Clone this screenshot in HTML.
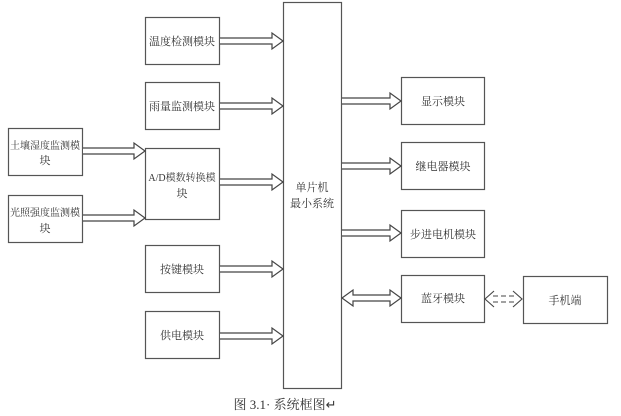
<!DOCTYPE html>
<html><head><meta charset="utf-8"><style>
html,body{margin:0;padding:0;background:#fff;}
svg{display:block;}
text{font-family:"Liberation Serif","Noto Serif CJK SC","Noto Sans CJK SC",serif;font-size:11px;fill:#333;}
.s{font-size:10px;}
</style></head><body>
<svg width="621" height="416" viewBox="0 0 621 416" xmlns="http://www.w3.org/2000/svg">
<g fill="#fff" stroke="#555" stroke-width="1.2">
<rect x="145.5" y="17.5" width="74" height="47"/>
<rect x="145.5" y="82.5" width="74" height="47"/>
<rect x="145.5" y="148.5" width="74" height="71"/>
<rect x="145.5" y="245.5" width="74" height="47"/>
<rect x="145.5" y="311.5" width="74" height="47"/>
<rect x="8.5" y="128.5" width="74" height="47"/>
<rect x="8.5" y="195.5" width="74" height="47"/>
<rect x="283.5" y="2.5" width="58" height="386"/>
<rect x="401.5" y="77.5" width="83" height="47"/>
<rect x="401.5" y="142.5" width="83" height="47"/>
<rect x="401.5" y="210.5" width="83" height="47"/>
<rect x="401.5" y="275.5" width="83" height="47"/>
<rect x="523.5" y="276.5" width="84" height="47"/>
</g>
<g fill="#fff" stroke="#444" stroke-width="1.2">
<path d="M220 38 H272 V33 L283 41 L272 49 V44 H220"/>
<path d="M220 103 H272 V98 L283 106 L272 114 V109 H220"/>
<path d="M220 179 H272 V174 L283 182 L272 190 V185 H220"/>
<path d="M220 266 H272 V261 L283 269 L272 277 V272 H220"/>
<path d="M220 333 H272 V328 L283 336 L272 344 V339 H220"/>
<path d="M83 148 H134 V143 L145 151 L134 159 V154 H83"/>
<path d="M83 215 H134 V210 L145 218 L134 226 V221 H83"/>
<path d="M342 98 H390 V93 L401 101 L390 109 V104 H342"/>
<path d="M342 163 H390 V158 L401 166 L390 174 V169 H342"/>
<path d="M342 230 H390 V225 L401 233 L390 241 V236 H342"/>
<path d="M342 298 L353 290 V295 H390 V290 L401 298 L390 306 V301 H353 V306 Z"/>
</g>
<g fill="none" stroke="#444" stroke-width="1.1" stroke-dasharray="5,3">
<path d="M493 296 H514 M493 302 H514"/>
<path d="M494 291 L485 299 L494 307 M513 291 L522 299 L513 307" stroke-dasharray="none"/>
</g>
<text x="182" y="45" text-anchor="middle">温度检测模块</text>
<text x="182" y="110" text-anchor="middle">雨量监测模块</text>
<text x="182" y="181" text-anchor="middle" class="s">A/D模数转换模</text>
<text x="182" y="197" text-anchor="middle">块</text>
<text x="182" y="273" text-anchor="middle">按键模块</text>
<text x="182" y="339" text-anchor="middle">供电模块</text>
<text x="45" y="149" text-anchor="middle" class="s">土壤湿度监测模</text>
<text x="45" y="164" text-anchor="middle">块</text>
<text x="45" y="216" text-anchor="middle" class="s">光照强度监测模</text>
<text x="45" y="232" text-anchor="middle">块</text>
<text x="312" y="191" text-anchor="middle">单片机</text>
<text x="312" y="207" text-anchor="middle">最小系统</text>
<text x="443" y="105" text-anchor="middle">显示模块</text>
<text x="443" y="170" text-anchor="middle">继电器模块</text>
<text x="443" y="238" text-anchor="middle">步进电机模块</text>
<text x="443" y="302" text-anchor="middle">蓝牙模块</text>
<text x="565" y="304" text-anchor="middle">手机端</text>
<text x="285" y="409" text-anchor="middle" style="font-size:13px">图 3.1· 系统框图↵</text>
</svg>
</body></html>
